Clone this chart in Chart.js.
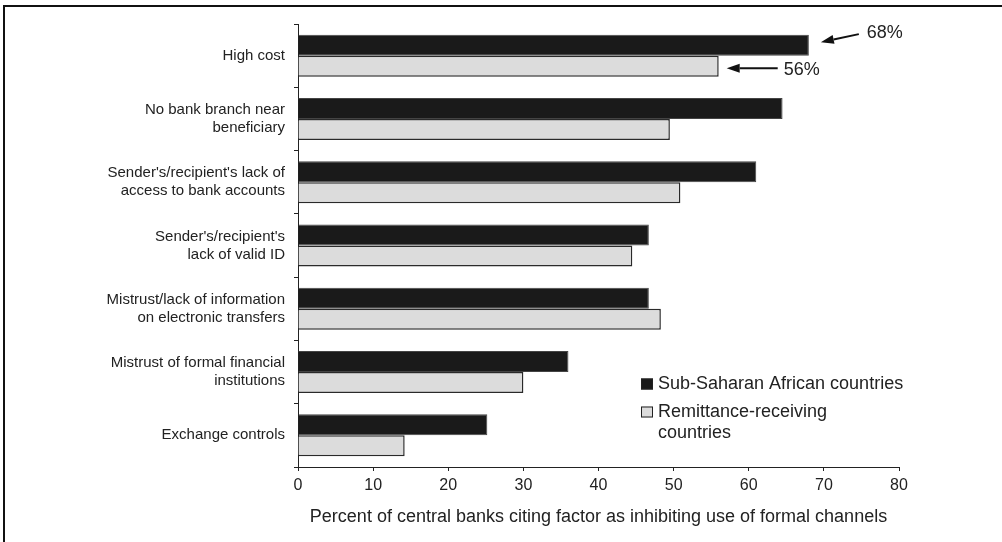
<!DOCTYPE html>
<html>
<head>
<meta charset="utf-8">
<script src="https://cdn.jsdelivr.net/npm/chart.js"></script>
<style>
  body { margin: 0; background: #fff; }
  #wrap { position: relative; width: 1002px; height: 542px; }
  #frame { position: absolute; left: 3px; top: 5px; right: 0; bottom: 0; border-top: 2px solid #111; border-left: 2px solid #111; }
  #grafico { position: absolute; left: 0; top: 0; }
</style>
</head>
<body>
<div id="wrap">
  <div id="frame"></div>
  <canvas id="grafico" width="1002" height="542"></canvas>
</div>
<script>
// Dados
const categorias = [
    ["High cost"],
    ["No bank branch near", "beneficiary"],
    ["Sender's/recipient's lack of", "access to bank accounts"],
    ["Sender's/recipient's", "lack of valid ID"],
    ["Mistrust/lack of information", "on electronic transfers"],
    ["Mistrust of formal financial", "institutions"],
    ["Exchange controls"]
];
const series = ["Sub-Saharan African countries", "Remittance-receiving countries"];
const linhasLegenda = [["Sub-Saharan African countries"], ["Remittance-receiving", "countries"]];
const africaSubsaariana = [68, 64.5, 61, 46.7, 46.7, 36, 25.2];
const paisesReceptores = [56, 49.5, 50.9, 44.5, 48.3, 30, 14.2];
const ticksX = [0, 10, 20, 30, 40, 50, 60, 70, 80];
const tituloX = "Percent of central banks citing factor as inhibiting use of formal channels";

const fonte = "'Liberation Sans', Arial, sans-serif";

// Legenda desenhada dentro da área do gráfico
const legendaPlugin = {
    id: "legendaInterna",
    afterDraw(chart) {
        const ctx = chart.ctx;
        ctx.save();
        ctx.font = "18px " + fonte;
        ctx.textBaseline = "middle";
        ctx.textAlign = "left";
        let y = 384;
        const x = 641;
        chart.data.datasets.forEach((ds, i) => {
            ctx.fillStyle = ds.backgroundColor;
            ctx.strokeStyle = "#222";
            ctx.lineWidth = 1;
            ctx.fillRect(x, y - 5.5, 12, 11);
            ctx.strokeRect(x + 0.5, y - 5, 11, 10);
            const linhas = linhasLegenda[i];
            ctx.fillStyle = "#222";
            linhas.forEach((l, k) => ctx.fillText(l, x + 17, y + k * 21));
            y += 28 + (linhas.length - 1) * 21;
        });
        ctx.restore();
    }
};

// Setas com os valores da primeira categoria
const setasPlugin = {
    id: "setas",
    afterDraw(chart) {
        const ctx = chart.ctx;
        const desenhaSeta = (x1, y1, x2, y2) => {
            const ang = Math.atan2(y2 - y1, x2 - x1);
            const len = 13, w = 4.5;
            const bx = x2 - Math.cos(ang) * len, by = y2 - Math.sin(ang) * len;
            ctx.beginPath();
            ctx.moveTo(x1, y1);
            ctx.lineTo(bx, by);
            ctx.stroke();
            ctx.beginPath();
            ctx.moveTo(x2, y2);
            ctx.lineTo(bx + Math.sin(ang) * w, by - Math.cos(ang) * w);
            ctx.lineTo(bx - Math.sin(ang) * w, by + Math.cos(ang) * w);
            ctx.closePath();
            ctx.fill();
        };
        ctx.save();
        ctx.strokeStyle = "#111";
        ctx.fillStyle = "#111";
        ctx.lineWidth = 2;
        ctx.font = "18px " + fonte;
        ctx.textBaseline = "middle";
        ctx.textAlign = "left";
        const b0 = chart.getDatasetMeta(0).data[0];
        const b1 = chart.getDatasetMeta(1).data[0];
        desenhaSeta(b0.x + 50, b0.y - 11, b0.x + 12, b0.y - 3);
        ctx.fillStyle = "#222";
        ctx.fillText(africaSubsaariana[0] + "%", b0.x + 58, b0.y - 12);
        ctx.fillStyle = "#111";
        desenhaSeta(b1.x + 59, b1.y + 2, b1.x + 8, b1.y + 2);
        ctx.fillStyle = "#222";
        ctx.fillText(paisesReceptores[0] + "%", b1.x + 65, b1.y + 4);
        ctx.restore();
    }
};

const ctx = document.getElementById("grafico").getContext("2d");
new Chart(ctx, {
    type: "bar",
    data: {
        labels: categorias,
        datasets: [
            {
                label: series[0],
                data: africaSubsaariana,
                backgroundColor: "#1a1a1a",
                borderColor: "#444",
                borderWidth: 1
            },
            {
                label: series[1],
                data: paisesReceptores,
                backgroundColor: "#dcdcdc",
                borderColor: "#2a2a2a",
                borderWidth: 1.5
            }
        ]
    },
    options: {
        indexAxis: "y",
        responsive: false,
        animation: false,
        categoryPercentage: 0.664,
        barPercentage: 1,
        layout: { padding: { top: 24, right: 103, left: 0, bottom: 0 } },
        plugins: {
            legend: { display: false },
            tooltip: { enabled: false }
        },
        scales: {
            x: {
                min: 0,
                max: 80,
                afterBuildTicks: s => { s.ticks = ticksX.map(v => ({ value: v })); },
                afterFit: s => { s.height = 75; },
                grid: { drawOnChartArea: false, tickLength: 4, tickColor: "#222" },
                border: { color: "#222", width: 1 },
                ticks: { color: "#222", padding: 5, font: { family: fonte, size: 16 }, maxRotation: 0 },
                title: {
                    display: true,
                    text: tituloX,
                    color: "#222",
                    padding: 14,
                    font: { family: fonte, size: 18 }
                }
            },
            y: {
                afterFit: s => { s.width = 298; },
                grid: { drawOnChartArea: false, tickLength: 4, tickColor: "#222", offset: true },
                border: { color: "#222", width: 1 },
                ticks: { color: "#222", padding: 9, font: { family: fonte, size: 15, lineHeight: 1.2 } }
            }
        }
    },
    plugins: [legendaPlugin, setasPlugin]
});
</script>
</body>
</html>
